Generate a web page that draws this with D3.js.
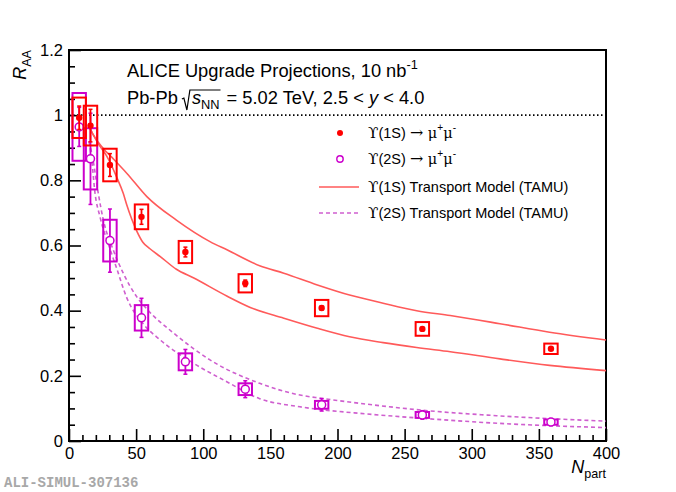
<!DOCTYPE html>
<html lang="en">
<head>
<meta charset="UTF-8">
<title>Upsilon RAA vs Npart</title>
<script src="https://d3js.org/d3.v7.min.js"></script>
<style>
  body { margin: 0; background: #fff; }
  svg text { font-family: "Liberation Sans", Arial, Helvetica, sans-serif; white-space: pre; }
</style>
</head>
<body>
<div id="chart"></div>
<script>
// centrality classes, Npart
var npart = [7.6, 16, 30.5, 54, 86.7, 131.3, 188.2, 263.2, 359];

// Upsilon(1S) projection
var raa1S  = [0.992, 0.968, 0.847, 0.688, 0.580, 0.484, 0.408, 0.344, 0.283];
var stat1S = [0.036, 0.050, 0.035, 0.023, 0.015, 0.010, 0.006, 0.004, 0.003];
var sys1S  = [0.062, 0.061, 0.050, 0.038, 0.034, 0.028, 0.025, 0.021, 0.016];

// Upsilon(2S) projection
var raa2S  = [0.964, 0.866, 0.615, 0.378, 0.243, 0.159, 0.111, 0.080, 0.058];
var stat2S = [0.060, 0.140, 0.097, 0.060, 0.038, 0.026, 0.019, 0.013, 0.008];
var sys2S  = [0.104, 0.094, 0.064, 0.039, 0.026, 0.018, 0.012, 0.009, 0.008];

// TAMU transport model bands (upper / lower edge)
var tamu1SHiN = [15, 18, 25.5, 33, 43, 58, 80, 105, 118, 142, 160, 185, 209, 234, 259, 284, 321, 358, 400];
var tamu1SHi  = [0.965, 0.94, 0.898, 0.866, 0.822, 0.75, 0.678, 0.612, 0.586, 0.538, 0.515, 0.479, 0.448, 0.423, 0.40, 0.385, 0.36, 0.334, 0.31];
var tamu1SLoN = [15, 18, 23, 28, 35.5, 40.4, 43, 50.4, 55, 60.3, 68, 80, 93, 117.5, 135, 160, 185, 209, 234, 259, 284, 321, 358, 400];
var tamu1SLo  = [0.965, 0.94, 0.905, 0.875, 0.81, 0.76, 0.725, 0.645, 0.61, 0.59, 0.566, 0.527, 0.50, 0.445, 0.41, 0.377, 0.346, 0.32, 0.302, 0.287, 0.274, 0.252, 0.232, 0.216];
var tamu2SHiN = [15, 18, 21.8, 25.5, 33, 40.4, 50.4, 58, 78, 105, 142, 172, 188, 222, 262, 321, 400];
var tamu2SHi  = [0.92, 0.86, 0.76, 0.68, 0.586, 0.515, 0.443, 0.405, 0.331, 0.249, 0.177, 0.141, 0.131, 0.113, 0.095, 0.077, 0.061];
var tamu2SLoN = [15, 17, 19.4, 23.1, 30.5, 35.5, 43, 55, 68, 93, 117.5, 142, 172, 222, 262, 321, 400];
var tamu2SLo  = [0.92, 0.86, 0.76, 0.688, 0.59, 0.53, 0.44, 0.361, 0.31, 0.238, 0.182, 0.13, 0.105, 0.083, 0.07, 0.054, 0.041];

var xMajor = [0, 50, 100, 150, 200, 250, 300, 350, 400];
var yMajor = [0, 0.2, 0.4, 0.6, 0.8, 1, 1.2];

var W = 676, H = 492;
var red = "#ff0000", redLine = "#ff5a5a", mag = "#cc00cc", magLine = "#cf5fcf";
var symFont = "'DejaVu Serif', 'DejaVu Sans', serif";

var svg = d3.select("#chart").append("svg").attr("width", W).attr("height", H);

var x = d3.scaleLinear().domain([0, 400]).range([69, 606]);
var y = d3.scaleLinear().domain([0, 1.2]).range([441, 50]);

// lays out text runs one after another (sub/superscripts, italics)
function rich(parent, x0, y0, runs, size) {
  var g = parent.append("g");
  var cx = x0, pos = [];
  runs.forEach(function(r) {
    var small = r.sub || r.sup;
    var fs = size * (small ? 0.7 : 1) * (r.scale || 1);
    var dy = r.sub ? size * 0.3 : (r.sup ? -size * 0.45 : 0);
    var t = g.append("text")
      .attr("x", cx).attr("y", y0 + dy + (r.dy || 0))
      .attr("font-size", fs)
      .attr("font-style", r.it ? "italic" : null)
      .text(r.t);
    if (r.ff) t.style("font-family", r.ff);
    var w = r.t ? t.node().getComputedTextLength() : 0;
    pos.push({ x0: cx, x1: cx + w });
    cx += w + (r.gap || 0);
  });
  return { g: g, width: cx - x0, pos: pos };
}

// axes, ticks inward
var xMinor = d3.range(0, 401, 10).filter(function(d) { return d % 50 !== 0; });
var yMinor = d3.range(0, 1.201, 0.05).filter(function(d) { return Math.abs(d * 5 - Math.round(d * 5)) > 1e-6; });

svg.append("g").attr("transform", "translate(0,441)")
  .call(d3.axisBottom(x).tickValues(xMinor).tickSize(-6).tickFormat("").tickSizeOuter(0));
svg.append("g").attr("class", "xax").attr("transform", "translate(0,441)")
  .call(d3.axisBottom(x).tickValues(xMajor).tickSize(-12).tickPadding(6).tickSizeOuter(0));
svg.append("g").attr("transform", "translate(69,0)")
  .call(d3.axisLeft(y).tickValues(yMinor).tickSize(-6).tickFormat("").tickSizeOuter(0));
svg.append("g").attr("class", "yax").attr("transform", "translate(69,0)")
  .call(d3.axisLeft(y).tickValues(yMajor).tickSize(-12).tickPadding(6).tickSizeOuter(0)
    .tickFormat(d3.format("~g")));

svg.selectAll(".tick line").attr("stroke", "#000").attr("stroke-width", 1.6);
svg.selectAll(".domain").remove();
svg.selectAll(".xax text, .yax text")
  .attr("font-size", 16.5).attr("fill", "#000")
  .style("font-family", "'Liberation Sans', Arial, sans-serif");

svg.append("rect")
  .attr("x", 69).attr("y", 50).attr("width", 606 - 69).attr("height", 441 - 50)
  .attr("fill", "none").attr("stroke", "#000").attr("stroke-width", 2);

// unity line
svg.append("line")
  .attr("x1", x(0)).attr("x2", x(400)).attr("y1", y(1)).attr("y2", y(1))
  .attr("stroke", "#000").attr("stroke-width", 1.6).attr("stroke-dasharray", "1.5,2.5");

// model curves
var line = d3.line().x(function(d) { return x(d[0]); }).y(function(d) { return y(d[1]); })
  .curve(d3.curveMonotoneX);
function curve(ns, vs, col, dash) {
  svg.append("path")
    .attr("d", line(d3.zip(ns, vs)))
    .attr("fill", "none").attr("stroke", col).attr("stroke-width", 1.6)
    .attr("stroke-dasharray", dash || null);
}
curve(tamu1SHiN, tamu1SHi, redLine);
curve(tamu1SLoN, tamu1SLo, redLine);
curve(tamu2SHiN, tamu2SHi, magLine, "4,3");
curve(tamu2SLoN, tamu2SLo, magLine, "4,3");

// data points: syst boxes, stat bars, markers
var boxHalf = 5;
function series(vals, stat, sys, col, open) {
  var g = svg.append("g");
  var pts = npart.map(function(n, i) { return { n: n, v: vals[i], st: stat[i], sy: sys[i] }; });
  g.selectAll("rect").data(pts).enter().append("rect")
    .attr("x", function(d) { return x(d.n - boxHalf); })
    .attr("width", function(d) { return x(d.n + boxHalf) - x(d.n - boxHalf); })
    .attr("y", function(d) { return y(d.v + d.sy); })
    .attr("height", function(d) { return y(d.v - d.sy) - y(d.v + d.sy); })
    .attr("fill", "none").attr("stroke", col).attr("stroke-width", 2);
  g.selectAll("line.bar").data(pts).enter().append("line").attr("class", "bar")
    .attr("x1", function(d) { return x(d.n); }).attr("x2", function(d) { return x(d.n); })
    .attr("y1", function(d) { return y(d.v + d.st); }).attr("y2", function(d) { return y(d.v - d.st); })
    .attr("stroke", col).attr("stroke-width", 1.8);
  [1, -1].forEach(function(s) {
    g.selectAll("line.cap" + s).data(pts).enter().append("line")
      .attr("x1", function(d) { return x(d.n) - 2; }).attr("x2", function(d) { return x(d.n) + 2; })
      .attr("y1", function(d) { return y(d.v + s * d.st); }).attr("y2", function(d) { return y(d.v + s * d.st); })
      .attr("stroke", col).attr("stroke-width", 1.5);
  });
  g.selectAll("circle").data(pts).enter().append("circle")
    .attr("cx", function(d) { return x(d.n); }).attr("cy", function(d) { return y(d.v); })
    .attr("r", open ? 4 : 3.2)
    .attr("fill", open ? "#fff" : col)
    .attr("stroke", col).attr("stroke-width", open ? 1.5 : 0);
}
series(raa2S, stat2S, sys2S, mag, true);
series(raa1S, stat1S, sys1S, red, false);

// header text
var hFs = 18.3;
rich(svg, 127, 77, [
  { t: "ALICE Upgrade Projections, 10 nb" }, { t: "-1", sup: true }
], hFs);

var hdr = rich(svg, 127, 104, [
  { t: "Pb-Pb ", gap: 9 }, { t: "s", it: true }, { t: "NN", sub: true, gap: 2 },
  { t: " = 5.02 TeV, 2.5 < " }, { t: "y", it: true }, { t: " < 4.0" }
], hFs);
var rx = hdr.pos[0].x1 - 1, rEnd = hdr.pos[2].x1 + 1, by = 104;
svg.append("path")
  .attr("d", "M" + rx + "," + (by - 5) + " L" + (rx + 2) + "," + (by - 6) +
    " L" + (rx + 5) + "," + (by + 6) + " L" + (rx + 8) + "," + (by - 14) + " L" + rEnd + "," + (by - 14))
  .attr("fill", "none").attr("stroke", "#000").attr("stroke-width", 1.2);

// legend
var legX = 340, legT = 368, legFs = 14.5;
function decay(state) {
  return [
    { t: "\u03d2", ff: symFont, scale: 1.05 }, { t: "(" + state + ") " },
    { t: "\u2192", ff: symFont, scale: 1.1 }, { t: " \u03bc", ff: symFont },
    { t: "+", sup: true }, { t: "\u03bc", ff: symFont }, { t: "-", sup: true }
  ];
}
function model(state) {
  return [{ t: "\u03d2", ff: symFont, scale: 1.05 }, { t: "(" + state + ") Transport Model (TAMU)" }];
}
var leg = [
  { y: 133, kind: "full", runs: decay("1S") },
  { y: 159, kind: "open", runs: decay("2S") },
  { y: 187, kind: "solid", runs: model("1S") },
  { y: 213, kind: "dash", runs: model("2S") }
];
leg.forEach(function(e) {
  if (e.kind === "full") {
    svg.append("circle").attr("cx", legX).attr("cy", e.y).attr("r", 3).attr("fill", red);
  } else if (e.kind === "open") {
    svg.append("circle").attr("cx", legX).attr("cy", e.y).attr("r", 3.2)
      .attr("fill", "#fff").attr("stroke", mag).attr("stroke-width", 1.4);
  } else {
    svg.append("line").attr("x1", 319).attr("x2", 359).attr("y1", e.y).attr("y2", e.y)
      .attr("stroke", e.kind === "solid" ? redLine : magLine).attr("stroke-width", 1.6)
      .attr("stroke-dasharray", e.kind === "dash" ? "4,3" : null);
  }
  rich(svg, legT, e.y + 5, e.runs, legFs);
});

// axis titles
var ry = rich(svg, 0, 0, [{ t: "R", it: true }, { t: "AA", sub: true }], 18);
ry.g.attr("transform", "translate(26," + (50 + ry.width) + ") rotate(-90)");
var nx = rich(svg, 0, 473, [{ t: "N", it: true }, { t: "part", sub: true }], 18);
nx.g.attr("transform", "translate(" + (606 - nx.width) + ",0)");

// figure id
svg.append("text").attr("x", 4).attr("y", 487)
  .attr("font-size", 14).attr("font-weight", "bold").attr("fill", "#a8a8a8")
  .style("font-family", "'Liberation Mono', 'DejaVu Sans Mono', monospace")
  .text("ALI-SIMUL-307136");
</script>
</body>
</html>
